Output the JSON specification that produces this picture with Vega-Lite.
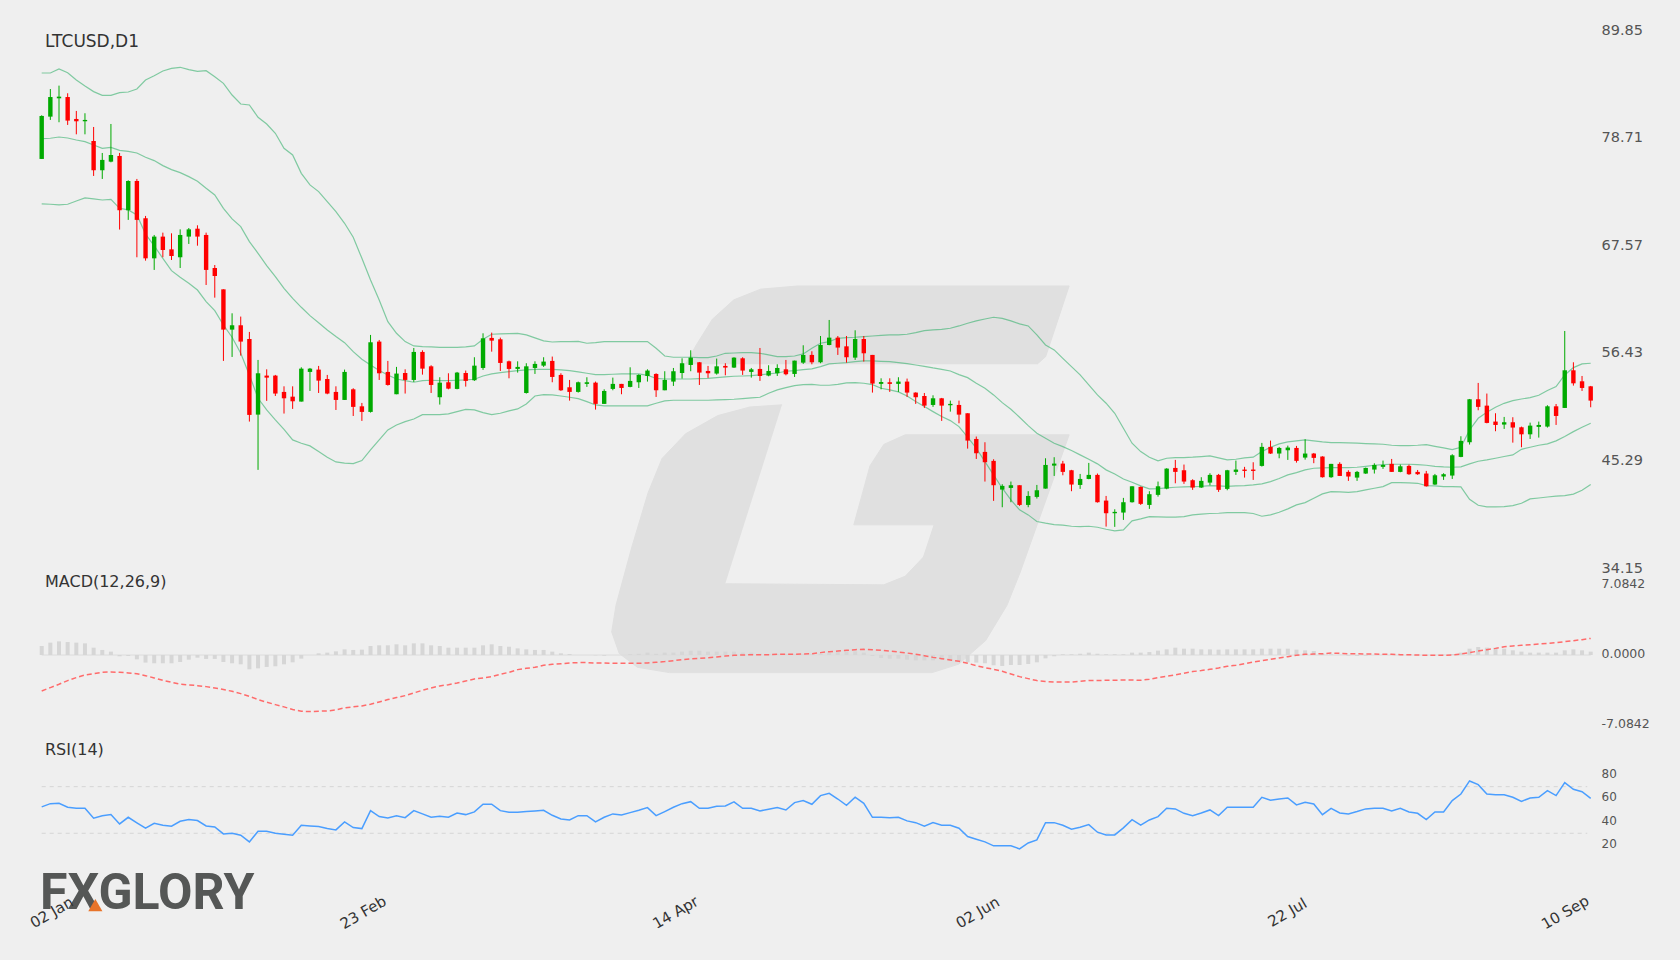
{
"$schema":"https://vega.github.io/schema/vega-lite/v6.json",
"description":"LTCUSD daily candles with Bollinger bands, MACD and RSI",
"width":1591,"height":884,
"autosize":{"type":"none"},
"padding":{"left":0,"top":0,"right":89,"bottom":76},
"background":"#efefef",
"config":{"view":{"stroke":null},"font":"DejaVu Sans"},
"datasets":{
"titlePrice":[{"t":"LTCUSD,D1"}],
"titleMacd":[{"t":"MACD(12,26,9)"}],
"titleRsi":[{"t":"RSI(14)"}],
"brand":[{"t":"FXGLORY"}],
"zero":[{"z":0}],
"levels":[{"lv":70},{"lv":30}],
"logo":[
{"part":"a","n":0,"lx":74.41,"ly":55.25},{"part":"a","n":1,"lx":75.65,"ly":57.25},{"part":"a","n":2,"lx":77.51,"ly":59.91},{"part":"a","n":3,"lx":79.98,"ly":61.91},{"part":"a","n":4,"lx":83.08,"ly":63.02},{"part":"a","n":5,"lx":87.41,"ly":63.35},{"part":"a","n":6,"lx":118.73,"ly":63.35},{"part":"a","n":7,"lx":116.01,"ly":56.03},{"part":"a","n":8,"lx":115.02,"ly":55.25},
{"part":"b","n":0,"lx":85.55,"ly":51.04},{"part":"b","n":1,"lx":81.84,"ly":50.82},{"part":"b","n":2,"lx":78.13,"ly":49.93},{"part":"b","n":3,"lx":74.41,"ly":48.05},{"part":"b","n":4,"lx":71.69,"ly":45.49},{"part":"b","n":5,"lx":70.08,"ly":41.95},{"part":"b","n":6,"lx":68.22,"ly":36.4},{"part":"b","n":7,"lx":66.37,"ly":30.3},{"part":"b","n":8,"lx":65.87,"ly":27.53},{"part":"b","n":9,"lx":66.74,"ly":25.31},{"part":"b","n":10,"lx":68.84,"ly":23.87},{"part":"b","n":11,"lx":72.55,"ly":23.32},{"part":"b","n":12,"lx":102.89,"ly":23.32},{"part":"b","n":13,"lx":105.98,"ly":24.2},{"part":"b","n":14,"lx":109.08,"ly":26.64},{"part":"b","n":15,"lx":111.55,"ly":30.3},{"part":"b","n":16,"lx":113.04,"ly":33.63},{"part":"b","n":17,"lx":118.73,"ly":47.94},{"part":"b","n":18,"lx":99.79,"ly":47.94},{"part":"b","n":19,"lx":97.31,"ly":46.94},{"part":"b","n":20,"lx":95.71,"ly":44.72},{"part":"b","n":21,"lx":93.85,"ly":38.62},{"part":"b","n":22,"lx":103.13,"ly":38.62},{"part":"b","n":23,"lx":101.9,"ly":35.29},{"part":"b","n":24,"lx":99.79,"ly":33.3},{"part":"b","n":25,"lx":97.31,"ly":32.41},{"part":"b","n":26,"lx":78.99,"ly":32.52}
],
"bars":[
{"i":0,"o":76.5,"h":81.02,"l":76.5,"c":80.95,"u":85.4,"m":78.6,"d":71.84,"s":-3.64,"b":0.91,"r":52.6},
{"i":1,"o":80.88,"h":83.74,"l":80.54,"c":82.91,"u":85.4,"m":78.64,"d":71.81,"s":-3.3,"b":1.25,"r":55.4},
{"i":2,"o":82.78,"h":84.09,"l":80.3,"c":82.95,"u":85.81,"m":78.77,"d":71.74,"s":-2.96,"b":1.38,"r":55.7},
{"i":3,"o":82.91,"h":83.3,"l":80.02,"c":80.47,"u":85.43,"m":78.67,"d":71.81,"s":-2.59,"b":1.31,"r":52.3},
{"i":4,"o":80.64,"h":81.47,"l":79.05,"c":80.4,"u":84.67,"m":78.46,"d":72.15,"s":-2.29,"b":1.25,"r":51.4},
{"i":5,"o":80.4,"h":81.23,"l":79.05,"c":80.54,"u":84.05,"m":78.29,"d":72.46,"s":-2.02,"b":1.18,"r":51.4},
{"i":6,"o":78.36,"h":79.81,"l":74.74,"c":75.33,"u":83.47,"m":77.95,"d":72.36,"s":-1.89,"b":0.74,"r":42.9},
{"i":7,"o":75.33,"h":77.12,"l":74.43,"c":76.4,"u":83.09,"m":77.6,"d":72.25,"s":-1.75,"b":0.51,"r":45.1},
{"i":8,"o":76.22,"h":80.12,"l":76.15,"c":76.91,"u":83.09,"m":77.7,"d":72.32,"s":-1.72,"b":0.34,"r":46},
{"i":9,"o":76.81,"h":77.12,"l":69.19,"c":71.19,"u":83.36,"m":77.39,"d":71.39,"s":-1.75,"b":-0.13,"r":38},
{"i":10,"o":71.19,"h":74.29,"l":70.19,"c":74.22,"u":83.43,"m":77.29,"d":71.22,"s":-1.82,"b":-0.1,"r":43.7},
{"i":11,"o":74.22,"h":74.43,"l":66.32,"c":70.19,"u":83.74,"m":77.12,"d":70.7,"s":-1.89,"b":-0.44,"r":38.9},
{"i":12,"o":70.36,"h":70.6,"l":65.97,"c":66.21,"u":84.67,"m":76.67,"d":68.73,"s":-2.09,"b":-0.77,"r":34.3},
{"i":13,"o":66.21,"h":68.63,"l":65.01,"c":68.46,"u":85.12,"m":76.33,"d":67.49,"s":-2.32,"b":-0.84,"r":38.6},
{"i":14,"o":68.46,"h":68.87,"l":66.32,"c":67.07,"u":85.61,"m":75.81,"d":66.21,"s":-2.56,"b":-0.84,"r":36.9},
{"i":15,"o":67.14,"h":68.8,"l":66.04,"c":66.45,"u":85.88,"m":75.39,"d":64.94,"s":-2.76,"b":-0.84,"r":36},
{"i":16,"o":66.32,"h":69.21,"l":65.21,"c":68.63,"u":85.99,"m":75.08,"d":64.25,"s":-2.96,"b":-0.71,"r":40.3},
{"i":17,"o":68.46,"h":69.35,"l":67.7,"c":69.21,"u":85.74,"m":74.67,"d":63.63,"s":-3.03,"b":-0.47,"r":41.7},
{"i":18,"o":69.28,"h":69.63,"l":67.52,"c":68.46,"u":85.57,"m":74.19,"d":62.93,"s":-3.1,"b":-0.27,"r":40.9},
{"i":19,"o":68.63,"h":68.87,"l":63.45,"c":65.01,"u":85.64,"m":73.46,"d":61.73,"s":-3.2,"b":-0.4,"r":36.3},
{"i":20,"o":65.21,"h":65.52,"l":62.14,"c":64.38,"u":85.02,"m":72.77,"d":60.8,"s":-3.33,"b":-0.4,"r":35.4},
{"i":21,"o":63,"h":63,"l":55.59,"c":58.83,"u":84.33,"m":71.39,"d":59.31,"s":-3.5,"b":-0.71,"r":29.4},
{"i":22,"o":58.83,"h":60.52,"l":56,"c":59.28,"u":83.12,"m":70.29,"d":58.04,"s":-3.67,"b":-0.84,"r":30},
{"i":23,"o":59.28,"h":60.18,"l":56.14,"c":57.59,"u":82.19,"m":69.49,"d":56.38,"s":-3.91,"b":-0.94,"r":28.3},
{"i":24,"o":57.86,"h":58.59,"l":49.31,"c":50,"u":82.09,"m":67.94,"d":54.14,"s":-4.18,"b":-1.45,"r":22.6},
{"i":25,"o":50.03,"h":55.69,"l":44.31,"c":54.31,"u":80.81,"m":66.73,"d":51.72,"s":-4.51,"b":-1.35,"r":31.7},
{"i":26,"o":54.07,"h":54.72,"l":51.45,"c":53.86,"u":80.12,"m":65.45,"d":50.51,"s":-4.78,"b":-1.21,"r":31.7},
{"i":27,"o":54.07,"h":54.14,"l":51.96,"c":52.21,"u":79.16,"m":64.31,"d":49.48,"s":-5.02,"b":-1.14,"r":30},
{"i":28,"o":52.38,"h":52.96,"l":50.14,"c":51.72,"u":77.6,"m":63.11,"d":48.51,"s":-5.25,"b":-0.94,"r":29.1},
{"i":29,"o":51.89,"h":52.96,"l":50.62,"c":51.41,"u":76.91,"m":62.07,"d":47.41,"s":-5.52,"b":-0.74,"r":28.3},
{"i":30,"o":51.38,"h":54.93,"l":51.38,"c":54.79,"u":75.01,"m":61.14,"d":47.07,"s":-5.69,"b":-0.37,"r":36.9},
{"i":31,"o":54.45,"h":54.86,"l":52.48,"c":54.79,"u":73.81,"m":60.28,"d":46.79,"s":-5.72,"b":0,"r":36.3},
{"i":32,"o":54.69,"h":55.07,"l":52.27,"c":53.55,"u":73.12,"m":59.55,"d":46.2,"s":-5.69,"b":0.17,"r":35.7},
{"i":33,"o":53.72,"h":54.14,"l":52.14,"c":52.21,"u":72.08,"m":58.8,"d":45.62,"s":-5.66,"b":0.24,"r":34},
{"i":34,"o":52.38,"h":52.96,"l":50.51,"c":51.55,"u":71.05,"m":58.11,"d":45.13,"s":-5.56,"b":0.37,"r":32.9},
{"i":35,"o":51.55,"h":54.69,"l":51.55,"c":54.45,"u":69.84,"m":57.48,"d":45,"s":-5.35,"b":0.57,"r":39.7},
{"i":36,"o":52.65,"h":52.76,"l":49.89,"c":50.83,"u":68.4,"m":56.55,"d":44.96,"s":-5.25,"b":0.51,"r":34.9},
{"i":37,"o":50.89,"h":51.24,"l":49.38,"c":50.31,"u":66.21,"m":55.76,"d":45.27,"s":-5.15,"b":0.54,"r":34},
{"i":38,"o":50.31,"h":58.28,"l":50.24,"c":57.52,"u":63.97,"m":55.17,"d":46.37,"s":-4.98,"b":0.91,"r":49.4},
{"i":39,"o":57.59,"h":57.76,"l":53.62,"c":54.31,"u":61.9,"m":54.59,"d":47.41,"s":-4.75,"b":0.98,"r":44.3},
{"i":40,"o":54.45,"h":55.59,"l":53.03,"c":53.1,"u":59.66,"m":54.14,"d":48.45,"s":-4.51,"b":0.98,"r":43.2},
{"i":41,"o":52.14,"h":54.97,"l":52.14,"c":54.28,"u":58.45,"m":53.72,"d":48.96,"s":-4.31,"b":1.08,"r":45.1},
{"i":42,"o":54.34,"h":54.72,"l":52.21,"c":53.62,"u":57.59,"m":53.55,"d":49.31,"s":-4.11,"b":0.98,"r":43.4},
{"i":43,"o":53.62,"h":56.93,"l":53.41,"c":56.52,"u":57.14,"m":53.38,"d":49.58,"s":-3.84,"b":1.18,"r":49.4},
{"i":44,"o":56.52,"h":56.69,"l":54.17,"c":54.79,"u":57.07,"m":53.55,"d":50.03,"s":-3.57,"b":1.18,"r":46.6},
{"i":45,"o":55.03,"h":55.14,"l":52.27,"c":53.1,"u":57.04,"m":53.59,"d":50.03,"s":-3.33,"b":0.98,"r":43.7},
{"i":46,"o":51.83,"h":53.9,"l":51.07,"c":53.34,"u":57,"m":53.55,"d":50.03,"s":-3.13,"b":0.91,"r":44.6},
{"i":47,"o":53.38,"h":54.31,"l":52.65,"c":52.72,"u":57,"m":53.55,"d":50.1,"s":-3,"b":0.74,"r":43.7},
{"i":48,"o":52.69,"h":54.45,"l":52.65,"c":54.38,"u":57,"m":53.59,"d":50.34,"s":-2.83,"b":0.74,"r":47.4},
{"i":49,"o":54.34,"h":54.59,"l":52.93,"c":53.52,"u":57.04,"m":53.62,"d":50.58,"s":-2.63,"b":0.74,"r":46},
{"i":50,"o":53.59,"h":55.97,"l":53.52,"c":55.1,"u":57.14,"m":53.69,"d":50.52,"s":-2.42,"b":0.74,"r":48.3},
{"i":51,"o":54.86,"h":58.45,"l":54.66,"c":57.93,"u":57.83,"m":54.03,"d":50.24,"s":-2.32,"b":0.98,"r":54.9},
{"i":52,"o":57.97,"h":58.52,"l":56.55,"c":57.69,"u":58.35,"m":54.24,"d":50.03,"s":-2.19,"b":1.08,"r":54.9},
{"i":53,"o":57.83,"h":58,"l":54.55,"c":55.38,"u":58.38,"m":54.38,"d":50.17,"s":-1.95,"b":0.91,"r":49.4},
{"i":54,"o":55.55,"h":55.62,"l":53.79,"c":54.76,"u":58.42,"m":54.48,"d":50.41,"s":-1.75,"b":0.84,"r":48},
{"i":55,"o":54.76,"h":55.55,"l":54.38,"c":54.97,"u":58.45,"m":54.59,"d":50.62,"s":-1.48,"b":0.67,"r":48},
{"i":56,"o":52.27,"h":55.35,"l":52.21,"c":55.03,"u":58.28,"m":54.66,"d":51.14,"s":-1.35,"b":0.57,"r":48.6},
{"i":57,"o":54.86,"h":55.55,"l":54.24,"c":55.28,"u":57.97,"m":54.72,"d":51.96,"s":-1.25,"b":0.51,"r":49.2},
{"i":58,"o":55.1,"h":55.97,"l":54.97,"c":55.52,"u":57.66,"m":54.72,"d":52.1,"s":-1.04,"b":0.51,"r":49.7},
{"i":59,"o":55.59,"h":56.04,"l":53.38,"c":53.93,"u":57.55,"m":54.72,"d":52.07,"s":-0.94,"b":0.34,"r":45.4},
{"i":60,"o":54.14,"h":54.31,"l":52.48,"c":52.55,"u":57.59,"m":54.66,"d":51.96,"s":-0.88,"b":0.17,"r":42.3},
{"i":61,"o":52.86,"h":53.62,"l":51.48,"c":52.38,"u":57.59,"m":54.59,"d":51.83,"s":-0.81,"b":0.1,"r":41.4},
{"i":62,"o":52.38,"h":53.45,"l":52.31,"c":53.38,"u":57.62,"m":54.45,"d":51.69,"s":-0.77,"b":0,"r":45.1},
{"i":63,"o":53.21,"h":53.9,"l":52.9,"c":53.38,"u":57.42,"m":54.31,"d":51.38,"s":-0.77,"b":0,"r":45.1},
{"i":64,"o":53.34,"h":53.45,"l":50.55,"c":51.14,"u":57.48,"m":54.17,"d":51.03,"s":-0.81,"b":-0.03,"r":39.7},
{"i":65,"o":51.14,"h":52.65,"l":51.14,"c":52.48,"u":57.59,"m":54.17,"d":50.93,"s":-0.81,"b":-0.07,"r":43.7},
{"i":66,"o":52.69,"h":53.86,"l":52.55,"c":53.21,"u":57.59,"m":54.21,"d":50.93,"s":-0.84,"b":0,"r":46.6},
{"i":67,"o":53.21,"h":53.21,"l":52.14,"c":52.79,"u":57.59,"m":54.24,"d":50.93,"s":-0.84,"b":0,"r":45.7},
{"i":68,"o":52.9,"h":54.93,"l":52.86,"c":53.52,"u":57.59,"m":54.24,"d":50.93,"s":-0.84,"b":0.07,"r":47.7},
{"i":69,"o":53.38,"h":54.21,"l":52.79,"c":54.14,"u":57.59,"m":54.24,"d":50.93,"s":-0.84,"b":0.13,"r":49.7},
{"i":70,"o":54.03,"h":54.72,"l":53.45,"c":54.59,"u":57.59,"m":54.1,"d":50.93,"s":-0.81,"b":0.24,"r":52},
{"i":71,"o":54.24,"h":54.31,"l":51.86,"c":52.55,"u":56.9,"m":53.79,"d":51.21,"s":-0.74,"b":0.13,"r":45.1},
{"i":72,"o":52.55,"h":54.52,"l":52.55,"c":53.62,"u":56.1,"m":53.72,"d":51.45,"s":-0.67,"b":0.24,"r":48.6},
{"i":73,"o":53.45,"h":54.86,"l":53,"c":54.52,"u":55.97,"m":53.72,"d":51.52,"s":-0.57,"b":0.24,"r":52.3},
{"i":74,"o":54.34,"h":55.86,"l":53.76,"c":55.35,"u":55.97,"m":53.72,"d":51.52,"s":-0.47,"b":0.34,"r":55.4},
{"i":75,"o":55.17,"h":56.69,"l":54.52,"c":55.93,"u":55.97,"m":53.72,"d":51.52,"s":-0.4,"b":0.44,"r":57.1},
{"i":76,"o":55.45,"h":55.48,"l":53.1,"c":54.38,"u":55.93,"m":53.76,"d":51.52,"s":-0.34,"b":0.44,"r":51.4},
{"i":77,"o":54.55,"h":55.07,"l":53.83,"c":54.31,"u":55.93,"m":53.79,"d":51.52,"s":-0.27,"b":0.34,"r":51.4},
{"i":78,"o":54.28,"h":55.83,"l":54.17,"c":55.03,"u":56.1,"m":53.86,"d":51.55,"s":-0.2,"b":0.34,"r":53.1},
{"i":79,"o":55.07,"h":55.35,"l":54.1,"c":54.9,"u":56.38,"m":53.93,"d":51.58,"s":-0.1,"b":0.34,"r":53.4},
{"i":80,"o":54.9,"h":55.97,"l":54.86,"c":55.93,"u":56.41,"m":54,"d":51.62,"s":-0.03,"b":0.34,"r":56.9},
{"i":81,"o":55.86,"h":55.97,"l":54.14,"c":54.59,"u":56.45,"m":54.03,"d":51.69,"s":0,"b":0.24,"r":51.4},
{"i":82,"o":54.45,"h":54.86,"l":53.86,"c":54.72,"u":56.45,"m":54.07,"d":51.76,"s":0.03,"b":0.24,"r":51.4},
{"i":83,"o":54.76,"h":56.93,"l":53.52,"c":54.03,"u":56.38,"m":54.14,"d":51.83,"s":0.03,"b":0.13,"r":49.2},
{"i":84,"o":54.07,"h":55.14,"l":54,"c":54.55,"u":56.21,"m":54.24,"d":52.24,"s":0.03,"b":0.1,"r":50.6},
{"i":85,"o":54.31,"h":55.24,"l":54.03,"c":54.86,"u":56.04,"m":54.34,"d":52.59,"s":0.07,"b":0.07,"r":52},
{"i":86,"o":54.72,"h":55.69,"l":54.1,"c":54.21,"u":56.04,"m":54.52,"d":52.83,"s":0.07,"b":0.07,"r":50},
{"i":87,"o":54.24,"h":55.62,"l":53.93,"c":55.62,"u":56.1,"m":54.59,"d":53.03,"s":0.07,"b":0.07,"r":56.3},
{"i":88,"o":55.41,"h":57.21,"l":55.28,"c":56.21,"u":56.31,"m":54.69,"d":53.14,"s":0.1,"b":0.07,"r":58},
{"i":89,"o":56.21,"h":56.59,"l":55.24,"c":55.45,"u":56.9,"m":54.76,"d":53.17,"s":0.13,"b":0.07,"r":54.9},
{"i":90,"o":55.45,"h":58.17,"l":55.35,"c":57.24,"u":57.42,"m":55,"d":53.07,"s":0.24,"b":0.13,"r":62.3},
{"i":91,"o":57.24,"h":59.83,"l":57.21,"c":58,"u":57.59,"m":55.28,"d":53.07,"s":0.34,"b":0.24,"r":64.3},
{"i":92,"o":58,"h":58.17,"l":56.21,"c":56.97,"u":57.93,"m":55.35,"d":53.17,"s":0.4,"b":0.3,"r":59.4},
{"i":93,"o":57.1,"h":58.17,"l":55.41,"c":55.97,"u":58,"m":55.41,"d":53.31,"s":0.47,"b":0.37,"r":54},
{"i":94,"o":55.93,"h":58.76,"l":55.69,"c":57.86,"u":58.04,"m":55.52,"d":53.34,"s":0.54,"b":0.37,"r":60.9},
{"i":95,"o":57.86,"h":58.17,"l":55.52,"c":56.38,"u":58.1,"m":55.59,"d":53.28,"s":0.57,"b":0.24,"r":55.7},
{"i":96,"o":56.21,"h":56.21,"l":52.31,"c":53.24,"u":58.17,"m":55.59,"d":53.14,"s":0.54,"b":-0.1,"r":43.7},
{"i":97,"o":53.21,"h":53.79,"l":52.65,"c":53.41,"u":58.24,"m":55.55,"d":52.76,"s":0.47,"b":-0.3,"r":43.7},
{"i":98,"o":53.38,"h":53.79,"l":52.38,"c":53.21,"u":58.28,"m":55.52,"d":52.59,"s":0.4,"b":-0.37,"r":43.2},
{"i":99,"o":53.21,"h":53.9,"l":52.38,"c":53.45,"u":58.28,"m":55.41,"d":52.38,"s":0.3,"b":-0.37,"r":43.7},
{"i":100,"o":53.45,"h":53.76,"l":51.86,"c":52.31,"u":58.35,"m":55.31,"d":51.96,"s":0.2,"b":-0.47,"r":40.6},
{"i":101,"o":52.31,"h":52.34,"l":51.14,"c":51.83,"u":58.52,"m":55.17,"d":51.38,"s":0.07,"b":-0.54,"r":39.1},
{"i":102,"o":51.96,"h":52.27,"l":50.72,"c":50.96,"u":58.73,"m":55.03,"d":50.86,"s":-0.07,"b":-0.54,"r":36},
{"i":103,"o":51.03,"h":52.03,"l":50.83,"c":51.72,"u":58.8,"m":54.86,"d":50.34,"s":-0.24,"b":-0.54,"r":39.1},
{"i":104,"o":51.72,"h":51.76,"l":49.38,"c":50.96,"u":58.86,"m":54.72,"d":49.83,"s":-0.37,"b":-0.4,"r":36.9},
{"i":105,"o":51,"h":51.48,"l":50.34,"c":51.14,"u":58.97,"m":54.55,"d":49.41,"s":-0.51,"b":-0.57,"r":36.9},
{"i":106,"o":51.03,"h":51.48,"l":49.13,"c":50.03,"u":59.21,"m":54.17,"d":48.79,"s":-0.64,"b":-0.64,"r":34.3},
{"i":107,"o":50.17,"h":50.17,"l":46.51,"c":47.34,"u":59.49,"m":53.86,"d":47.69,"s":-0.84,"b":-0.74,"r":27.2},
{"i":108,"o":47.51,"h":47.76,"l":45.44,"c":46.03,"u":59.73,"m":53.28,"d":46.55,"s":-1.08,"b":-0.77,"r":24.9},
{"i":109,"o":46.17,"h":47.17,"l":43.1,"c":45.1,"u":59.93,"m":52.76,"d":45.17,"s":-1.28,"b":-0.84,"r":22.6},
{"i":110,"o":45.24,"h":45.41,"l":41.1,"c":42.72,"u":60.11,"m":52.07,"d":43.79,"s":-1.45,"b":-1.04,"r":19.2},
{"i":111,"o":42.27,"h":42.82,"l":40.44,"c":42.65,"u":60,"m":51.27,"d":42.41,"s":-1.65,"b":-1.11,"r":19.2},
{"i":112,"o":42.44,"h":43.1,"l":40.96,"c":42.72,"u":59.73,"m":50.58,"d":41.2,"s":-1.92,"b":-1.01,"r":19.2},
{"i":113,"o":42.72,"h":42.72,"l":40.58,"c":40.68,"u":59.42,"m":49.76,"d":40.17,"s":-2.19,"b":-1.01,"r":16.6},
{"i":114,"o":40.68,"h":42.1,"l":40.44,"c":41.61,"u":59.21,"m":48.89,"d":39.65,"s":-2.39,"b":-0.91,"r":21.7},
{"i":115,"o":41.51,"h":42.75,"l":41.34,"c":42.2,"u":58.28,"m":48.1,"d":38.96,"s":-2.59,"b":-0.74,"r":24.3},
{"i":116,"o":42.37,"h":45.51,"l":42.37,"c":44.82,"u":57.24,"m":47.58,"d":38.79,"s":-2.69,"b":-0.34,"r":39.1},
{"i":117,"o":44.75,"h":45.62,"l":43.68,"c":44.96,"u":56.73,"m":47.07,"d":38.65,"s":-2.73,"b":-0.13,"r":39.1},
{"i":118,"o":44.96,"h":45.24,"l":43.75,"c":44.1,"u":55.86,"m":46.72,"d":38.58,"s":-2.73,"b":0.07,"r":36.9},
{"i":119,"o":44.27,"h":44.31,"l":42.1,"c":42.79,"u":55,"m":46.31,"d":38.47,"s":-2.73,"b":0.07,"r":33.4},
{"i":120,"o":42.75,"h":43.89,"l":42.34,"c":43.37,"u":54.14,"m":45.86,"d":38.44,"s":-2.66,"b":0.13,"r":35.1},
{"i":121,"o":43.37,"h":45.03,"l":43.34,"c":43.79,"u":53.1,"m":45.41,"d":38.47,"s":-2.59,"b":0.24,"r":37.4},
{"i":122,"o":43.79,"h":43.93,"l":40.92,"c":40.96,"u":52.07,"m":44.93,"d":38.37,"s":-2.59,"b":0.13,"r":30.9},
{"i":123,"o":41.13,"h":41.61,"l":38.44,"c":39.82,"u":51.21,"m":44.31,"d":38.16,"s":-2.56,"b":0.07,"r":28.6},
{"i":124,"o":39.82,"h":40.23,"l":38.41,"c":39.96,"u":50.17,"m":43.89,"d":37.99,"s":-2.56,"b":0.07,"r":28.6},
{"i":125,"o":39.89,"h":41.41,"l":39.13,"c":40.96,"u":48.62,"m":43.37,"d":38.1,"s":-2.53,"b":0.07,"r":34.6},
{"i":126,"o":40.96,"h":42.61,"l":40.92,"c":42.61,"u":47.07,"m":43.03,"d":39.03,"s":-2.53,"b":0.24,"r":41.7},
{"i":127,"o":42.55,"h":42.58,"l":40.68,"c":40.79,"u":46.2,"m":42.65,"d":39.23,"s":-2.56,"b":0.24,"r":36.9},
{"i":128,"o":40.68,"h":42.1,"l":40.27,"c":41.79,"u":45.62,"m":42.34,"d":39.47,"s":-2.46,"b":0.3,"r":41.4},
{"i":129,"o":41.72,"h":43.1,"l":41.54,"c":42.61,"u":45.24,"m":42.37,"d":39.44,"s":-2.29,"b":0.44,"r":44.3},
{"i":130,"o":42.37,"h":44.48,"l":42.3,"c":44.44,"u":45.51,"m":42.44,"d":39.41,"s":-2.15,"b":0.57,"r":51.4},
{"i":131,"o":44.51,"h":45.34,"l":42.92,"c":44.1,"u":45.58,"m":42.51,"d":39.41,"s":-2.02,"b":0.74,"r":50.9},
{"i":132,"o":44.27,"h":44.86,"l":42.86,"c":43.1,"u":45.58,"m":42.55,"d":39.47,"s":-1.85,"b":0.64,"r":47.1},
{"i":133,"o":43.24,"h":43.34,"l":42.24,"c":42.48,"u":45.62,"m":42.58,"d":39.65,"s":-1.68,"b":0.64,"r":45.1},
{"i":134,"o":42.48,"h":43.55,"l":42.44,"c":43.17,"u":45.68,"m":42.61,"d":39.72,"s":-1.58,"b":0.57,"r":47.4},
{"i":135,"o":42.99,"h":43.96,"l":42.72,"c":43.79,"u":45.75,"m":42.68,"d":39.79,"s":-1.45,"b":0.57,"r":50},
{"i":136,"o":43.79,"h":43.89,"l":42.03,"c":42.24,"u":45.55,"m":42.65,"d":39.82,"s":-1.31,"b":0.54,"r":45.1},
{"i":137,"o":42.34,"h":44.31,"l":42.2,"c":44.27,"u":45.34,"m":42.61,"d":39.89,"s":-1.14,"b":0.57,"r":52.3},
{"i":138,"o":44.1,"h":45.27,"l":43.79,"c":44.34,"u":45.41,"m":42.65,"d":39.89,"s":-1.04,"b":0.57,"r":52.3},
{"i":139,"o":44.34,"h":44.62,"l":43.51,"c":44.2,"u":45.55,"m":42.68,"d":39.89,"s":-0.88,"b":0.57,"r":52.3},
{"i":140,"o":44.34,"h":45.1,"l":43.27,"c":44.2,"u":45.62,"m":42.75,"d":39.79,"s":-0.71,"b":0.57,"r":52.3},
{"i":141,"o":44.72,"h":47.1,"l":44.65,"c":46.69,"u":46.2,"m":42.86,"d":39.51,"s":-0.57,"b":0.64,"r":60.9},
{"i":142,"o":46.69,"h":47.34,"l":45.96,"c":46,"u":46.65,"m":43.1,"d":39.65,"s":-0.44,"b":0.64,"r":58.3},
{"i":143,"o":46,"h":46.69,"l":45.51,"c":46.58,"u":47,"m":43.41,"d":39.92,"s":-0.3,"b":0.64,"r":59.4},
{"i":144,"o":46.34,"h":46.82,"l":45.34,"c":46.62,"u":47.2,"m":43.79,"d":40.27,"s":-0.17,"b":0.64,"r":60.3},
{"i":145,"o":46.58,"h":46.79,"l":45.06,"c":45.24,"u":47.31,"m":44.03,"d":40.68,"s":-0.03,"b":0.54,"r":54.3},
{"i":146,"o":45.58,"h":47.48,"l":45.37,"c":46,"u":47.41,"m":44.31,"d":40.92,"s":0.07,"b":0.47,"r":56.6},
{"i":147,"o":46,"h":46.06,"l":45,"c":45.55,"u":47.31,"m":44.48,"d":41.37,"s":0.1,"b":0.4,"r":55.1},
{"i":148,"o":45.69,"h":45.72,"l":43.51,"c":43.55,"u":47.2,"m":44.51,"d":41.82,"s":0.13,"b":0.13,"r":46},
{"i":149,"o":43.55,"h":44.93,"l":43.48,"c":44.93,"u":47.13,"m":44.55,"d":42.06,"s":0.2,"b":0.07,"r":51.4},
{"i":150,"o":44.93,"h":45.1,"l":43.68,"c":43.68,"u":47.13,"m":44.55,"d":42.03,"s":0.17,"b":0.03,"r":47.4},
{"i":151,"o":44.1,"h":44.27,"l":43.17,"c":43.62,"u":47.1,"m":44.55,"d":41.99,"s":0.13,"b":-0.07,"r":46.6},
{"i":152,"o":43.51,"h":44.2,"l":43.17,"c":44.1,"u":47.07,"m":44.58,"d":42.06,"s":0.13,"b":-0.1,"r":48.6},
{"i":153,"o":43.93,"h":44.55,"l":43.89,"c":44.51,"u":47.03,"m":44.68,"d":42.24,"s":0.1,"b":-0.07,"r":50.9},
{"i":154,"o":44.34,"h":44.99,"l":43.93,"c":44.82,"u":47,"m":44.79,"d":42.41,"s":0.1,"b":0,"r":51.4},
{"i":155,"o":44.62,"h":45.27,"l":44.41,"c":44.82,"u":46.96,"m":44.86,"d":42.58,"s":0.07,"b":0.03,"r":51.4},
{"i":156,"o":44.93,"h":45.44,"l":44.1,"c":44.1,"u":46.86,"m":44.89,"d":42.99,"s":0.07,"b":0.03,"r":49.2},
{"i":157,"o":44.1,"h":44.86,"l":44.06,"c":44.68,"u":46.82,"m":44.89,"d":42.99,"s":0.03,"b":0.03,"r":51.4},
{"i":158,"o":44.72,"h":44.86,"l":43.79,"c":43.86,"u":46.82,"m":44.89,"d":42.96,"s":0.03,"b":0.03,"r":48.3},
{"i":159,"o":44.1,"h":44.3,"l":43.79,"c":43.86,"u":46.86,"m":44.86,"d":42.92,"s":0,"b":0,"r":47.1},
{"i":160,"o":43.93,"h":44.2,"l":42.58,"c":42.61,"u":46.93,"m":44.79,"d":42.68,"s":-0.03,"b":-0.03,"r":41.7},
{"i":161,"o":42.79,"h":43.89,"l":42.75,"c":43.75,"u":46.75,"m":44.68,"d":42.65,"s":-0.03,"b":0,"r":48.3},
{"i":162,"o":43.62,"h":43.96,"l":43.27,"c":43.86,"u":46.58,"m":44.62,"d":42.58,"s":-0.03,"b":0.03,"r":48.3},
{"i":163,"o":43.72,"h":45.93,"l":43.37,"c":45.82,"u":46.41,"m":44.58,"d":42.58,"s":0,"b":0.1,"r":58},
{"i":164,"o":45.65,"h":47.79,"l":45.62,"c":47.31,"u":46.65,"m":44.62,"d":42.55,"s":0.1,"b":0.24,"r":63.7},
{"i":165,"o":47.17,"h":51.65,"l":46.93,"c":51.62,"u":48.44,"m":44.93,"d":41.27,"s":0.24,"b":0.64,"r":74.9},
{"i":166,"o":51.62,"h":53.31,"l":50.48,"c":50.83,"u":49.65,"m":45.2,"d":40.65,"s":0.4,"b":0.81,"r":71.7},
{"i":167,"o":50.96,"h":52.21,"l":49.13,"c":49.17,"u":50.27,"m":45.34,"d":40.48,"s":0.54,"b":0.74,"r":63.7},
{"i":168,"o":49.31,"h":50.17,"l":48.31,"c":48.96,"u":50.79,"m":45.51,"d":40.48,"s":0.67,"b":0.74,"r":63.1},
{"i":169,"o":49,"h":49.79,"l":48.55,"c":49.24,"u":51.2,"m":45.69,"d":40.51,"s":0.84,"b":0.64,"r":63.1},
{"i":170,"o":49.24,"h":49.76,"l":47.13,"c":48.69,"u":51.48,"m":45.86,"d":40.61,"s":0.91,"b":0.47,"r":60.9},
{"i":171,"o":48.72,"h":48.79,"l":46.65,"c":47.99,"u":51.65,"m":46.44,"d":40.85,"s":0.98,"b":0.34,"r":57.4},
{"i":172,"o":47.99,"h":49.2,"l":47.51,"c":48.89,"u":51.79,"m":46.65,"d":41.3,"s":1.04,"b":0.24,"r":60.3},
{"i":173,"o":48.76,"h":49.31,"l":47.65,"c":48.96,"u":52.03,"m":46.86,"d":41.4,"s":1.11,"b":0.24,"r":60.9},
{"i":174,"o":48.79,"h":51,"l":48.69,"c":50.89,"u":52.52,"m":47,"d":41.5,"s":1.18,"b":0.24,"r":66.6},
{"i":175,"o":50.89,"h":51.13,"l":48.96,"c":49.89,"u":52.93,"m":47.31,"d":41.6,"s":1.25,"b":0.24,"r":62.3},
{"i":176,"o":50.72,"h":58.69,"l":50.72,"c":54.62,"u":54.14,"m":47.76,"d":41.65,"s":1.35,"b":0.47,"r":73.4},
{"i":177,"o":54.62,"h":55.45,"l":53.03,"c":53.27,"u":54.9,"m":48.27,"d":41.8,"s":1.45,"b":0.57,"r":67.7},
{"i":178,"o":53.48,"h":54.03,"l":52.48,"c":52.79,"u":55.28,"m":48.72,"d":42.2,"s":1.55,"b":0.47,"r":65.7},
{"i":179,"o":52.96,"h":53,"l":50.79,"c":51.48,"u":55.35,"m":49.13,"d":42.8,"s":1.68,"b":0.34,"r":60}
]},
"data":{"name":"bars"},
"layer":[
{"layer":[
{"data":{"name":"logo"},
 "mark":{"type":"line","fill":"#e0e0e0","stroke":"#e0e0e0","strokeWidth":1},
 "encoding":{
  "x":{"field":"lx","type":"quantitative","scale":{"domain":[0,179],"range":[41.7,1590.7],"nice":false,"zero":false,"padding":0},
   "axis":{"orient":"bottom","values":[1.1,37.1,73.2,108.1,143.9,176],"labelExpr":"datum.value<10?'02 Jan':datum.value<50?'23 Feb':datum.value<90?'14 Apr':datum.value<120?'02 Jun':datum.value<160?'22 Jul':'10 Sep'","title":null,"domain":false,"ticks":false,"grid":false,"labelAngle":-30,"labelAlign":"center","labelBaseline":"middle","labelPadding":28,"labelFontSize":15,"labelColor":"#333333","labelOverlap":false,"labelBound":false,"labelFlush":false,"zindex":1}},
  "y":{"field":"ly","type":"quantitative","scale":{"domain":[34.15,89.85],"range":[568,30],"nice":false,"zero":false,"padding":0},
   "axis":{"orient":"right","values":[34.15,45.29,56.43,67.57,78.71,89.85],"format":".2f","title":null,"domain":false,"ticks":false,"grid":false,"labelPadding":10,"labelFontSize":14.5,"labelColor":"#555555"}},
  "detail":{"field":"part"},
  "order":{"field":"n"}}},
{"mark":{"type":"line","stroke":"#35b06c","strokeWidth":1.2,"opacity":0.6},"encoding":{"x":{"field":"i","type":"quantitative"},"y":{"field":"u","type":"quantitative"}}},
{"mark":{"type":"line","stroke":"#35b06c","strokeWidth":1.2,"opacity":0.6},"encoding":{"x":{"field":"i","type":"quantitative"},"y":{"field":"m","type":"quantitative"}}},
{"mark":{"type":"line","stroke":"#35b06c","strokeWidth":1.2,"opacity":0.6},"encoding":{"x":{"field":"i","type":"quantitative"},"y":{"field":"d","type":"quantitative"}}},
{"mark":{"type":"rule","strokeWidth":1},
 "encoding":{"x":{"field":"i","type":"quantitative"},"y":{"field":"h","type":"quantitative"},"y2":{"field":"l"},
  "color":{"condition":{"test":"datum.c>=datum.o","value":"#00aa00"},"value":"#ff0000"}}},
{"mark":{"type":"bar","size":4.4},
 "encoding":{"x":{"field":"i","type":"quantitative"},"y":{"field":"o","type":"quantitative"},"y2":{"field":"c"},
  "color":{"condition":{"test":"datum.c>=datum.o","value":"#00aa00"},"value":"#ff0000"}}},
{"data":{"name":"titlePrice"},
 "mark":{"type":"text","align":"left","baseline":"middle","fontSize":17,"color":"#333333"},
 "encoding":{"x":{"datum":0.38,"type":"quantitative"},"y":{"datum":88.6,"type":"quantitative"},"text":{"field":"t"}}}
]},
{"layer":[
{"data":{"name":"zero"},
 "mark":{"type":"rule","stroke":"#dcdcdc","strokeWidth":1},
 "encoding":{"x":{"datum":0,"type":"quantitative"},"x2":{"datum":179},
  "y":{"field":"z","type":"quantitative","scale":{"domain":[-7.0842,7.0842],"range":[725,585],"nice":false,"zero":false,"padding":0},
   "axis":{"orient":"right","values":[-7.0842,0,7.0842],"labelExpr":"replace(format(datum.value,'.4f'),'\u2212','-')","title":null,"domain":false,"ticks":false,"grid":false,"labelPadding":10,"labelFontSize":12.5,"labelColor":"#555555","labelOffset":-1.5}}}},
{"mark":{"type":"bar","size":4,"color":"#d6d6d6"},"encoding":{"x":{"field":"i","type":"quantitative"},"y":{"field":"b","type":"quantitative"},"y2":{"datum":0}}},
{"mark":{"type":"line","stroke":"#ff6b6b","strokeWidth":1.5,"strokeDash":[5,3]},"encoding":{"x":{"field":"i","type":"quantitative"},"y":{"field":"s","type":"quantitative"}}},
{"data":{"name":"titleMacd"},
 "mark":{"type":"text","align":"left","baseline":"middle","fontSize":16,"color":"#333333"},
 "encoding":{"x":{"datum":0.38,"type":"quantitative"},"y":{"datum":7.39,"type":"quantitative"},"text":{"field":"t"}}}
]},
{"layer":[
{"data":{"name":"levels"},
 "mark":{"type":"rule","stroke":"#d5d5d5","strokeWidth":1,"strokeDash":[4,4]},
 "encoding":{"x":{"datum":0,"type":"quantitative"},"x2":{"datum":178.6},
  "y":{"field":"lv","type":"quantitative","scale":{"domain":[0,100],"range":[868.2,751.7],"nice":false,"zero":false,"padding":0},
   "axis":{"orient":"right","values":[20,40,60,80],"title":null,"domain":false,"ticks":false,"grid":false,"labelPadding":10,"labelFontSize":12,"labelColor":"#555555","labelOffset":-1.5}}}},
{"mark":{"type":"line","stroke":"#4a9eff","strokeWidth":1.5},
 "encoding":{"x":{"field":"i","type":"quantitative"},"y":{"field":"r","type":"quantitative"}}},
{"data":{"name":"titleRsi"},
 "mark":{"type":"text","align":"left","baseline":"middle","fontSize":16,"color":"#333333"},
 "encoding":{"x":{"datum":0.38,"type":"quantitative"},"y":{"datum":101.5,"type":"quantitative"},"text":{"field":"t"}}},
{"data":{"name":"brand"},
 "mark":{"type":"text","align":"left","baseline":"middle","font":"Roboto","fontWeight":"bold","fontSize":50,"color":"#555756"},
 "encoding":{"x":{"datum":-0.2,"type":"quantitative"},"y":{"datum":-22,"type":"quantitative"},"text":{"field":"t"}}},
{"data":{"name":"brand"},
 "mark":{"type":"point","shape":"triangle-up","filled":true,"size":200,"color":"#e8742a","opacity":1},
 "encoding":{"x":{"datum":6.2,"type":"quantitative"},"y":{"datum":-31.6,"type":"quantitative"}}}
]}
],
"resolve":{"scale":{"y":"independent"}}
}
